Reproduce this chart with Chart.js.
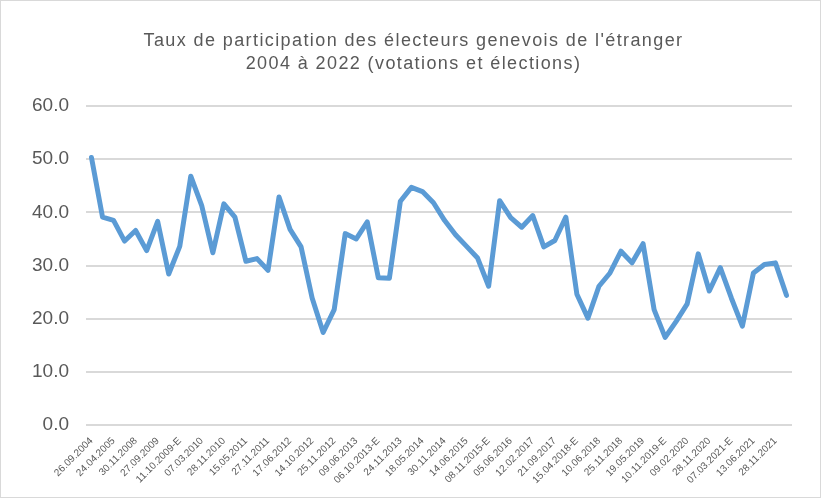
<!DOCTYPE html>
<html>
<head>
<meta charset="utf-8">
<script src="https://cdn.jsdelivr.net/npm/chart.js@4"></script>
<style>
  html, body { margin: 0; padding: 0; background: #fff; }
  #cadre { width: 819px; height: 496px; border: 1px solid #d9d9d9; }
</style>
</head>
<body>
<div id="cadre"><canvas id="graficoParticipation" width="819" height="496"></canvas></div>
<script>
// Dates affichées sur l'axe (une sur deux)
const datesAffichees = [
  "26.09.2004", "24.04.2005", "30.11.2008", "27.09.2009", "11.10.2009-E", "07.03.2010",
  "28.11.2010", "15.05.2011", "27.11.2011", "17.06.2012", "14.10.2012", "25.11.2012",
  "09.06.2013", "06.10.2013-E", "24.11.2013", "18.05.2014", "30.11.2014", "14.06.2015",
  "08.11.2015-E", "05.06.2016", "12.02.2017", "21.09.2017", "15.04.2018-E", "10.06.2018",
  "25.11.2018", "19.05.2019", "10.11.2019-E", "09.02.2020", "28.11.2020", "07.03.2021-E",
  "13.06.2021", "28.11.2021"
];

// Taux de participation (%)
const tauxParticipation = [
  50.3, 39.1, 38.5, 34.6, 36.6, 32.8, 38.3, 28.4, 33.6, 46.8,
  41.2, 32.4, 41.6, 39.1, 30.8, 31.3, 29.1, 42.9, 36.8, 33.5,
  23.9, 17.4, 21.7, 36.0, 35.0, 38.2, 27.7, 27.6, 42.1, 44.7,
  43.9, 41.8, 38.5, 35.8, 33.6, 31.4, 26.1, 42.2, 39.0, 37.2,
  39.4, 33.5, 34.7, 39.1, 24.6, 20.1, 26.1, 28.6, 32.7, 30.5,
  34.1, 21.7, 16.5, 19.5, 22.8, 32.2, 25.2, 29.6, 23.9, 18.6,
  28.6, 30.2, 30.5, 24.4
];

const graduationsY = [0, 10, 20, 30, 40, 50, 60];

// un scrutin sur deux est étiqueté
const etiquettes = tauxParticipation.map((v, i) => (i % 2 === 0 ? datesAffichees[i / 2] : ""));

// titre un peu espacé, comme dans Excel
const titreEspace = {
  id: "titreEspace",
  beforeDraw(chart) {
    const bloc = chart.titleBlock;
    if (!bloc || bloc._espace) return;
    const dessin = bloc.draw;
    bloc.draw = function () {
      const c = chart.ctx;
      c.save();
      c.letterSpacing = "1.4px";
      c.translate(10, 0);
      dessin.call(this);
      c.restore();
    };
    bloc._espace = true;
  },
};

const ctx = document.getElementById("graficoParticipation").getContext("2d");
new Chart(ctx, {
  type: "line",
  data: {
    labels: etiquettes,
    datasets: [
      {
        label: "Taux de participation",
        data: tauxParticipation,
        borderColor: "#5b9bd5",
        backgroundColor: "#5b9bd5",
        borderWidth: 5,
        tension: 0,
        pointRadius: 0,
        borderJoinStyle: "round",
        borderCapStyle: "round",
      },
    ],
  },
  plugins: [titreEspace],
  options: {
    responsive: false,
    animation: false,
    layout: { padding: { left: 14, right: 28, top: 29, bottom: 9 } },
    plugins: {
      legend: { display: false },
      tooltip: { enabled: false },
      title: {
        display: true,
        text: [
          "Taux de participation des électeurs genevois de l'étranger",
          "2004 à 2022 (votations et élections)",
        ],
        color: "#595959",
        font: { family: "'Liberation Sans', Arial, sans-serif", size: 18, weight: "normal", lineHeight: 1.25 },
        padding: { top: 0, bottom: 31 },
      },
    },
    scales: {
      y: {
        min: graduationsY[0],
        max: graduationsY[graduationsY.length - 1],
        afterBuildTicks: (axis) => { axis.ticks = graduationsY.map((v) => ({ value: v })); },
        grid: { color: "#d9d9d9", lineWidth: 2, drawTicks: false },
        border: { display: false },
        ticks: {
          color: "#595959",
          padding: 17,
          font: { family: "'Liberation Sans', Arial, sans-serif", size: 19 },
          callback: (v) => Number(v).toFixed(1),
        },
      },
      x: {
        offset: true,
        grid: { display: false },
        border: { display: false },
        ticks: {
          autoSkip: false,
          minRotation: 45,
          maxRotation: 45,
          padding: 2,
          color: "#595959",
          font: { family: "'Liberation Sans', Arial, sans-serif", size: 10 },
        },
      },
    },
  },
});
</script>
</body>
</html>
